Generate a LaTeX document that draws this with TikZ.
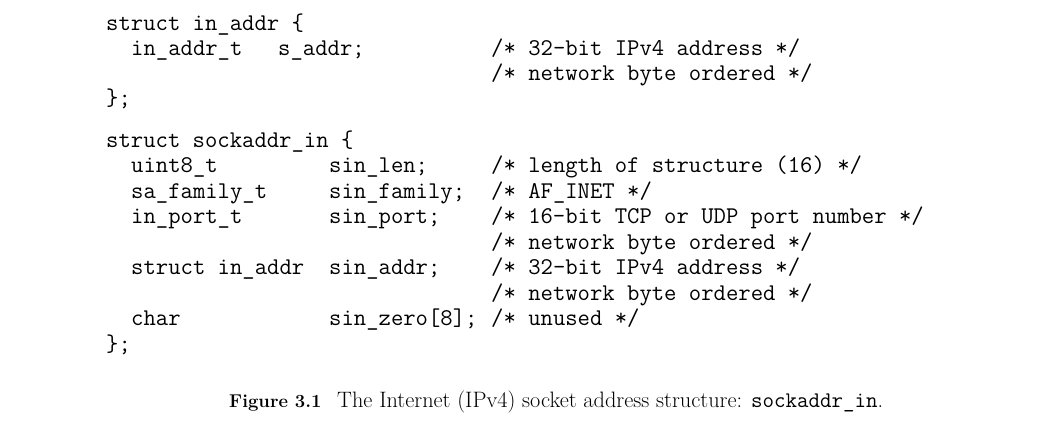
\documentclass[tikz,border=0pt]{standalone}
\usepackage{fontspec}
\usetikzlibrary{positioning}

\tikzset{
  code/.style={font=\ttfamily\fontsize{24}{25}\selectfont, anchor=base west, inner sep=0pt},
  capt/.style={font=\fontsize{22.3}{24}\selectfont, anchor=base west, inner sep=0pt}
}

\begin{document}
\begin{tikzpicture}[x=1pt,y=-1pt]
\useasboundingbox (0,0) rectangle (1063,441);
% struct in_addr
\node[code] (inhead) at (106,31) {struct in\_addr \{};
\node[code] (intype) at (131,56) {in\_addr\_t};
\node[code] (inname) at (278,56) {s\_addr;};
\node[code] (incom1) at (491,56) {/* 32-bit IPv4 address */};
\node[code] (incom2) at (491,81) {/* network byte ordered */};
\node[code] (inend)  at (106,106) {\};};
% struct sockaddr_in
\node[code] (sahead) at (106,147) {struct sockaddr\_in \{};
\node[code] (lentype) at (131,172) {uint8\_t};
\node[code] (lenname) at (329,172) {sin\_len;};
\node[code] (lencom)  at (491,172) {/* length of structure (16) */};
\node[code] (famtype) at (131,198) {sa\_family\_t};
\node[code] (famname) at (329,198) {sin\_family;};
\node[code] (famcom)  at (491,198) {/* AF\_INET */};
\node[code] (porttype) at (131,223) {in\_port\_t};
\node[code] (portname) at (329,223) {sin\_port;};
\node[code] (portcom1) at (491,223) {/* 16-bit TCP or UDP port number */};
\node[code] (portcom2) at (491,249) {/* network byte ordered */};
\node[code] (addrtype) at (131,274) {struct in\_addr};
\node[code] (addrname) at (329,274) {sin\_addr;};
\node[code] (addrcom1) at (491,274) {/* 32-bit IPv4 address */};
\node[code] (addrcom2) at (491,300) {/* network byte ordered */};
\node[code] (zerotype) at (131,325) {char};
\node[code] (zeroname) at (329,325) {sin\_zero[8];};
\node[code] (zerocom)  at (491,325) {/* unused */};
\node[code] (saend)    at (106,351) {\};};
% caption
\node[capt, font=\bfseries\fontsize{18.5}{24}\selectfont] (fignum) at (229,407) {Figure 3.1};
\node[capt] (figtext) at (337,407) {The Internet (IPv4) socket address structure: \texttt{sockaddr\_in}.};
\end{tikzpicture}
\end{document}
